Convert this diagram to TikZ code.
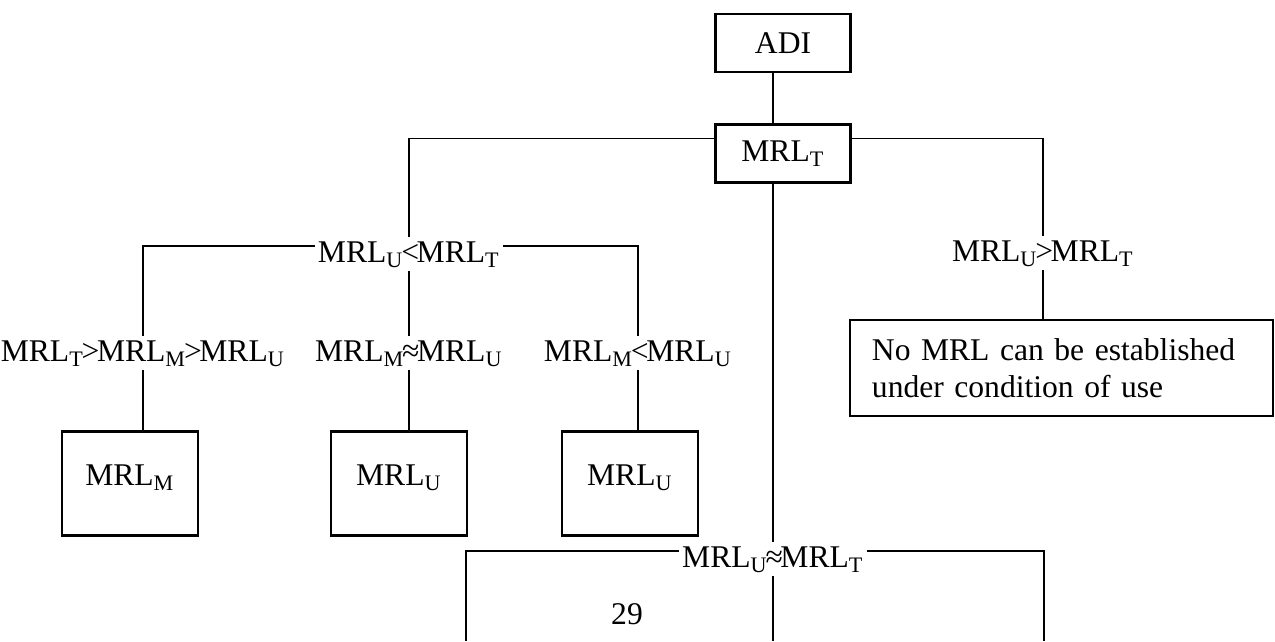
\documentclass[tikz,border=0pt]{standalone}
\usepackage{fontspec}
\setmainfont{Liberation Serif}
\usetikzlibrary{positioning}

\newcommand{\relsym}[1]{\kern-0.9pt#1\kern-0.9pt}

\begin{document}
\begin{tikzpicture}[x=0.364pt,y=-0.364pt]
        \tikzstyle{every node}=[font=\fontsize{11.5}{13.6}\selectfont]
        \tikzstyle{box}=[draw, line width=0.9pt, minimum width=49pt, minimum height=21pt, inner sep=1pt]
        \tikzstyle{leaf}=[box, minimum width=49.5pt, minimum height=38pt, text height=8pt, text depth=6.5pt]
        \tikzstyle{cond}=[inner sep=1pt, text height=8pt, text depth=2pt]
        \tikzstyle{link}=[line width=0.7pt]

        \useasboundingbox (0,0) rectangle (1275,641);

        \node[box]  (adi)   at (783,43)    {ADI};
        \node[box]  (mrlt)  at (783,153.5) {MRL\textsubscript{T}};

        \node[cond] (lt)    at (409,254)   {MRL\textsubscript{U}\relsym{<}MRL\textsubscript{T}};
        \node[cond] (gt)    at (1043,253)  {MRL\textsubscript{U}\relsym{>}MRL\textsubscript{T}};
        \node[cond] (ap)    at (773,559)   {MRL\textsubscript{U}\relsym{≈}MRL\textsubscript{T}};

        \node[cond] (c1)    at (143,353)   {MRL\textsubscript{T}\relsym{>}MRL\textsubscript{M}\relsym{>}MRL\textsubscript{U}};
        \node[cond] (c2)    at (409,353)   {MRL\textsubscript{M}\relsym{≈}MRL\textsubscript{U}};
        \node[cond] (c3)    at (638,353)   {MRL\textsubscript{M}\relsym{<}MRL\textsubscript{U}};

        \node[leaf] (m)     at (130,483.5) {MRL\textsubscript{M}};
        \node[leaf] (u1)    at (399,483.5) {MRL\textsubscript{U}};
        \node[leaf] (u2)    at (630,483.5) {MRL\textsubscript{U}};
        \node[box, minimum height=35pt, inner xsep=8pt, text width=138pt, align=left]
                    (nomrl) at (1061.5,368) {No MRL can be established\\under condition of use};

        \node       (page)  at (627,614)   {29};

        \coordinate (bl) at (466,641);
        \coordinate (br) at (1044,641);

        \draw[link] (adi.south -| ap) -- (mrlt.north -| ap);
        \draw[link] ([yshift=-5.5pt]mrlt.north west) -| (lt);
        \draw[link] ([yshift=-5.5pt]mrlt.north east) -| (gt);
        \draw[link] (mrlt.south -| ap) -- (ap);

        \draw[link] ([yshift=3pt]lt.west) -| (c1);
        \draw[link] ([yshift=3pt]lt.east) -| (c3);
        \draw[link] (lt) -- (c2);
        \draw[link] (c1) -- (c1 |- m.north);
        \draw[link] (c2) -- (c2 |- u1.north);
        \draw[link] (c3) -- (c3 |- u2.north);
        \draw[link] (gt) -- (gt |- nomrl.north);

        \draw[link] ([yshift=3pt]ap.west) -| (bl);
        \draw[link] ([yshift=3pt]ap.east) -| (br);
        \draw[link] (ap) -- (ap |- bl);
\end{tikzpicture}
\end{document}
